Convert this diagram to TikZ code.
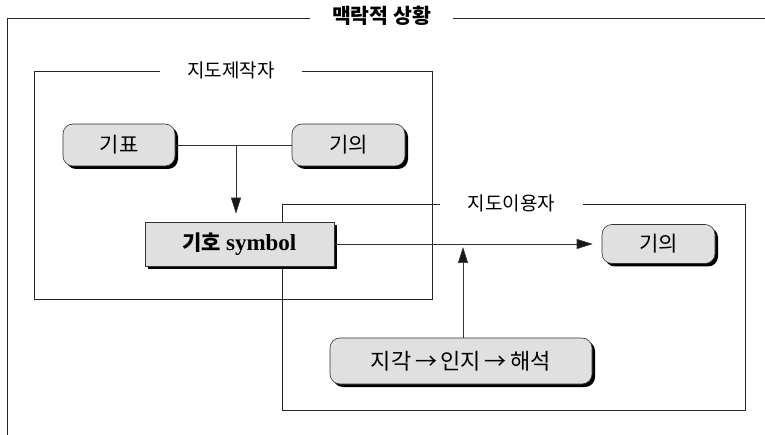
\documentclass[tikz,border=0pt]{standalone}
\usepackage{fontspec}
\newfontfamily\kr{Noto Sans CJK KR}
\newfontfamily\serifb{Liberation Serif}
\usetikzlibrary{arrows.meta}
\begin{document}
\begin{tikzpicture}[x=1pt,y=-1pt,
  frameline/.style={line width=1pt, black!85},
  ttl/.style={font=\kr\fontsize{19}{20}\selectfont, inner sep=0pt, text height=13pt, text depth=2pt},
  shadowed/.style={preaction={fill=black, transform canvas={xshift=3pt,yshift=-3pt}}},
  rbox/.style={shadowed, draw=black!80, line width=0.6pt, fill=black!12, rounded corners=10pt,
     minimum height=42pt, inner sep=0pt, font=\kr\fontsize{21}{23}\selectfont},
  sbox/.style={shadowed, draw=black!80, line width=0.6pt, fill=black!12,
     minimum height=44pt, inner sep=0pt},
  conn/.style={line width=0.6pt, black!80},
  arr/.style={conn, -{Triangle[length=16pt,width=10pt,fill=black!90]}}
]
\useasboundingbox (0,0) rectangle (765,435);

% outer frame
\node[ttl, font=\kr\bfseries\fontsize{20.5}{22}\selectfont, minimum width=143pt] (tctx) at (381.5,18) {맥락적 상황};
\draw[frameline] (7,435) -- (7,19) -- (tctx.west |- 0,19);
\draw[frameline] (tctx.east |- 0,19) -- (765,19);

% map maker frame
\node[ttl, minimum width=142pt] (tmaker) at (231,72) {지도제작자};
\draw[frameline] (tmaker.east) -- (432,72) -- (432,300) -- (34,300) -- (34,72) -- (tmaker.west);

% map user frame
\node[ttl, minimum width=143pt] (tuser) at (511.5,205) {지도이용자};
\draw[frameline] (tuser.east) -- (745,205) -- (745,410) -- (282,410) -- (282,205) -- (tuser.west);

% boxes
\node[rbox, minimum width=112pt] (gipyo) at (119,145) {기표};
\node[rbox, minimum width=113pt] (gieui1) at (348.5,145) {기의};
\node[sbox, minimum width=189pt] (giho) at (239.5,244) {{\kr\bfseries\fontsize{21}{23}\selectfont 기호\ }{\serifb\bfseries\fontsize{23}{25}\selectfont symbol}};
\node[rbox, minimum width=113pt, minimum height=39pt] (gieui2) at (658.5,244) {기의};
\node[rbox, minimum width=262pt, minimum height=46pt, font=\kr\fontsize{22}{24}\selectfont] (jigak) at (461,361) {지각\,→\,인지\,→\,해석};

% connectors
\draw[conn] (gipyo.east) -- (gieui1.west);
\coordinate (junc) at (236,145);
\draw[arr, shorten >=8pt] (junc) -- (junc |- giho.north);
\draw[arr, shorten >=9pt] (giho.east) -- (gieui2.west);
\coordinate (jtop) at (463,244);
\draw[arr, shorten >=3pt] (jigak.north -| jtop) -- (jtop);
\end{tikzpicture}
\end{document}
